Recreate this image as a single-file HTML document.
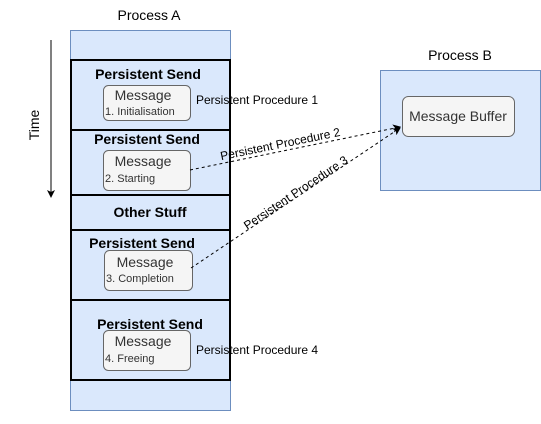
<!DOCTYPE html>
<html><head><style>body{margin:0;background:#fff}</style></head><body>
<svg width="541" height="419" xmlns="http://www.w3.org/2000/svg" font-family="Liberation Sans, sans-serif">
<defs><marker id="a" markerWidth="8" markerHeight="8" refX="7" refY="4" orient="auto" markerUnits="userSpaceOnUse"><path d="M0,0 L8,4 L0,8 L2,4z" fill="#000"/></marker></defs>
<text x="149" y="20" font-size="14" text-anchor="middle">Process A</text>
<rect x="70.5" y="30.5" width="160" height="380" fill="#dae8fc" stroke="#6c8ebf"/>
<g fill="#dae8fc" stroke="#000" stroke-width="2">
<rect x="71" y="60" width="159" height="70"/>
<rect x="71" y="130" width="159" height="65"/>
<rect x="71" y="195" width="159" height="35"/>
<rect x="71" y="230" width="159" height="70"/>
<rect x="71" y="300" width="159" height="80"/>
</g>
<g font-size="14" font-weight="bold" text-anchor="middle">
<text x="148" y="79">Persistent Send</text>
<text x="147" y="144">Persistent Send</text>
<text x="150" y="217">Other Stuff</text>
<text x="142" y="248">Persistent Send</text>
<text x="150" y="329">Persistent Send</text>
</g>
<g fill="#f5f5f5" stroke="#666">
<rect x="103.5" y="85.5" width="87" height="35" rx="5"/>
<rect x="103.5" y="150.5" width="87" height="40" rx="5"/>
<rect x="104.5" y="250.5" width="88" height="40" rx="5"/>
<rect x="103.5" y="330.5" width="87" height="40" rx="5"/>
</g>
<g fill="#333" font-size="14" text-anchor="middle">
<text x="143" y="100">Message</text>
<text x="143" y="166">Message</text>
<text x="145" y="267">Message</text>
<text x="143" y="346">Message</text>
</g>
<g fill="#333" font-size="11">
<text x="105" y="115">1. Initialisation</text>
<text x="105" y="182">2. Starting</text>
<text x="106" y="282">3. Completion</text>
<text x="105" y="362">4. Freeing</text>
</g>
<g font-size="12">
<text x="196" y="104">Persistent Procedure 1</text>
<text x="196" y="354">Persistent Procedure 4</text>
</g>
<line x1="51" y1="40" x2="51" y2="197" stroke="#000" marker-end="url(#a)"/>
<text transform="translate(39,125) rotate(-90)" font-size="14" text-anchor="middle">Time</text>
<text x="460" y="60" font-size="14" text-anchor="middle">Process B</text>
<rect x="380.5" y="70.5" width="160" height="120" fill="#dae8fc" stroke="#6c8ebf"/>
<rect x="402.5" y="96.5" width="112" height="40" rx="6" fill="#f5f5f5" stroke="#666"/>
<text x="458" y="121" font-size="14" fill="#333" text-anchor="middle">Message Buffer</text>
<g stroke="#000" stroke-dasharray="3,3" fill="none">
<line x1="190" y1="170" x2="400" y2="127" marker-end="url(#a)"/>
<line x1="191" y1="268" x2="400" y2="128" marker-end="url(#a)"/>
</g>
<text transform="translate(281,148) rotate(-11.6)" font-size="12" text-anchor="middle">Persistent Procedure 2</text>
<text transform="translate(298,196) rotate(-33.8)" font-size="12" text-anchor="middle">Persistent Procedure 3</text>
</svg>
</body></html>
